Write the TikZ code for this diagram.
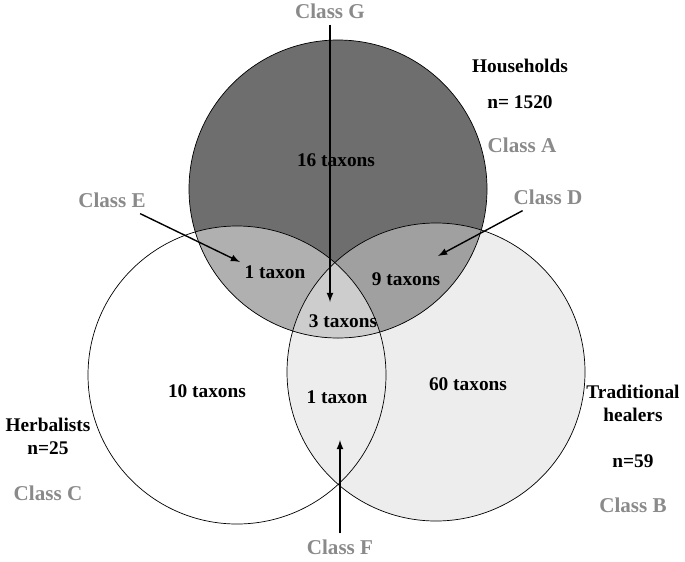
\documentclass[tikz,border=0pt]{standalone}
\usepackage{fontspec}
\setmainfont{Liberation Serif}
\usepackage{tikz}
\definecolor{darkA}{HTML}{6E6E6E}
\definecolor{midAB}{HTML}{A0A0A0}
\definecolor{midAC}{HTML}{B0B0B0}
\definecolor{lightABC}{HTML}{CDCDCD}
\definecolor{lightB}{HTML}{EDEDED}
\definecolor{classgray}{HTML}{8A8A8A}
\tikzset{
    lbl/.style={font=\bfseries\fontsize{11}{13}\selectfont},
    cls/.style={lbl, text=classgray, font=\bfseries\fontsize{12}{14}\selectfont},
    pointer/.style={-latex, thick}
}

\begin{document}
\begin{tikzpicture}[x=0.02cm, y=-0.02cm]
            \useasboundingbox (0, 0) rectangle (685, 561);

            % circles: households, traditional healers, herbalists
            \fill[lightB] (436, 372) circle (149);
            \fill[darkA] (338, 189) circle (149);
            \begin{scope}
                \clip (338, 189) circle (149);
                \fill[midAB] (436, 372) circle (149);
                \fill[midAC] (237, 375) circle (149);
                \clip (436, 372) circle (149);
                \fill[lightABC] (237, 375) circle (149);
            \end{scope}
            \draw (338, 189) circle (149);
            \draw (436, 372) circle (149);
            \draw (237, 375) circle (149);

            \node[lbl] (tA) at (336, 160) {16 taxons};
            \node[lbl] (tAC) at (275, 272) {1 taxon};
            \node[lbl] (tAB) at (406, 279) {9 taxons};
            \node[lbl] (tABC) at (343, 321) {3 taxons};
            \node[lbl] (tC) at (207, 391) {10 taxons};
            \node[lbl] (tBC) at (337, 397) {1 taxon};
            \node[lbl] (tB) at (468, 384) {60 taxons};

            \node[lbl] (hh) at (520, 66) {Households};
            \node[lbl] (nA) at (520, 102) {n= 1520};
            \node[cls] (cA) at (522, 145) {Class A};
            \node[lbl, align=center] (tr) at (633, 403) {Traditional\\healers};
            \node[lbl] (nB) at (633, 461) {n=59};
            \node[cls] (cB) at (633, 505) {Class B};
            \node[lbl, align=center] (hb) at (48, 436) {Herbalists\\n=25};
            \node[cls] (cC) at (48, 493) {Class C};

            \node[cls] (cG) at (330, 11) {Class G};
            \node[cls] (cE) at (112, 200) {Class E};
            \node[cls] (cD) at (548, 197) {Class D};
            \node[cls] (cF) at (340, 547) {Class F};

            \coordinate (pG) at (330, 302);
            \coordinate (pE) at (240, 262);
            \coordinate (pD) at (438, 256);
            \coordinate (pF) at (340, 440);
            \draw[pointer] (cG) -- (pG);
            \draw[pointer] (cE) -- (pE);
            \draw[pointer] (cD) -- (pD);
            \draw[pointer] (cF) -- (pF);
        \end{tikzpicture}
\end{document}
